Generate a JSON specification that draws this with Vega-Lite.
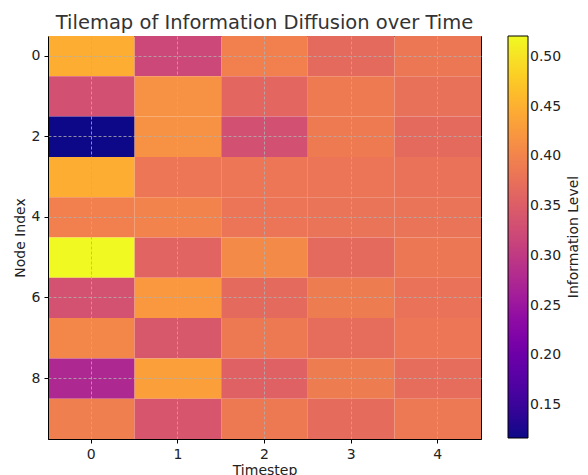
{
  "$schema": "https://vega.github.io/schema/vega-lite/v6.json",
  "autosize": "none",
  "width": 433,
  "height": 403,
  "padding": {"left": 48, "top": 36, "right": 107, "bottom": 36},
  "background": "white",
  "title": {"text": "Tilemap of Information Diffusion over Time", "font": "DejaVu Sans", "fontSize": 19.5, "fontWeight": "normal", "color": "#333333", "offset": 3, "anchor": "middle"},
  "data": {"values": [
    {"node": 0, "t": 0, "v": 0.448}, {"node": 0, "t": 1, "v": 0.320}, {"node": 0, "t": 2, "v": 0.396}, {"node": 0, "t": 3, "v": 0.368}, {"node": 0, "t": 4, "v": 0.384},
    {"node": 1, "t": 0, "v": 0.331}, {"node": 1, "t": 1, "v": 0.416}, {"node": 1, "t": 2, "v": 0.364}, {"node": 1, "t": 3, "v": 0.388}, {"node": 1, "t": 4, "v": 0.376},
    {"node": 2, "t": 0, "v": 0.117}, {"node": 2, "t": 1, "v": 0.416}, {"node": 2, "t": 2, "v": 0.331}, {"node": 2, "t": 3, "v": 0.388}, {"node": 2, "t": 4, "v": 0.367},
    {"node": 3, "t": 0, "v": 0.448}, {"node": 3, "t": 1, "v": 0.383}, {"node": 3, "t": 2, "v": 0.383}, {"node": 3, "t": 3, "v": 0.381}, {"node": 3, "t": 4, "v": 0.378},
    {"node": 4, "t": 0, "v": 0.396}, {"node": 4, "t": 1, "v": 0.400}, {"node": 4, "t": 2, "v": 0.381}, {"node": 4, "t": 3, "v": 0.380}, {"node": 4, "t": 4, "v": 0.380},
    {"node": 5, "t": 0, "v": 0.521}, {"node": 5, "t": 1, "v": 0.359}, {"node": 5, "t": 2, "v": 0.408}, {"node": 5, "t": 3, "v": 0.367}, {"node": 5, "t": 4, "v": 0.384},
    {"node": 6, "t": 0, "v": 0.333}, {"node": 6, "t": 1, "v": 0.424}, {"node": 6, "t": 2, "v": 0.367}, {"node": 6, "t": 3, "v": 0.390}, {"node": 6, "t": 4, "v": 0.378},
    {"node": 7, "t": 0, "v": 0.404}, {"node": 7, "t": 1, "v": 0.343}, {"node": 7, "t": 2, "v": 0.387}, {"node": 7, "t": 3, "v": 0.370}, {"node": 7, "t": 4, "v": 0.383},
    {"node": 8, "t": 0, "v": 0.275}, {"node": 8, "t": 1, "v": 0.432}, {"node": 8, "t": 2, "v": 0.355}, {"node": 8, "t": 3, "v": 0.390}, {"node": 8, "t": 4, "v": 0.371},
    {"node": 9, "t": 0, "v": 0.394}, {"node": 9, "t": 1, "v": 0.340}, {"node": 9, "t": 2, "v": 0.386}, {"node": 9, "t": 3, "v": 0.369}, {"node": 9, "t": 4, "v": 0.385}
  ]},
  "mark": {"type": "rect"},
  "encoding": {
    "x": {"field": "t", "type": "ordinal", "scale": {"paddingInner": 0, "paddingOuter": 0},
      "axis": {"title": "Timestep", "labelAngle": 0, "grid": true, "bandPosition": 0.5, "zindex": 1, "titlePadding": 2}},
    "y": {"field": "node", "type": "ordinal", "scale": {"paddingInner": 0, "paddingOuter": 0},
      "axis": {"title": "Node Index", "values": [0, 2, 4, 6, 8], "grid": true, "bandPosition": 0.5, "zindex": 1}},
    "color": {"field": "v", "type": "quantitative",
      "scale": {"scheme": "plasma", "domain": [0.117, 0.521]},
      "legend": {"title": "Information Level", "gradientLength": 402, "gradientThickness": 20, "values": [0.15, 0.2, 0.25, 0.3, 0.35, 0.4, 0.45, 0.5], "format": ".2f", "offset": 27, "titleOrient": "right", "titleAnchor": "middle", "direction": "vertical",
        "encode": {"title": {"update": {"angle": {"value": -90}, "baseline": {"value": "top"}, "align": {"value": "center"}}}}}
    }
  },
  "config": {
    "font": "DejaVu Sans",
    "view": {"stroke": "black", "strokeWidth": 1},
    "axis": {"labelFont": "DejaVu Sans", "labelFontSize": 14, "labelColor": "#222222", "titleFont": "DejaVu Sans", "titleFontSize": 14, "titleFontWeight": "normal", "titleColor": "#222222", "domainColor": "black", "tickColor": "black", "tickSize": 4, "gridColor": "#b0b0b0", "gridDash": [3, 2], "gridOpacity": 0.8, "labelPadding": 4, "titlePadding": 4},
    "legend": {"labelFont": "DejaVu Sans", "labelFontSize": 14, "labelColor": "#222222", "titleFont": "DejaVu Sans", "titleFontSize": 14, "titleFontWeight": "normal", "titleColor": "#222222", "gradientStrokeColor": "black", "gradientStrokeWidth": 1, "labelOffset": 7, "titlePadding": 6}
  }
}
